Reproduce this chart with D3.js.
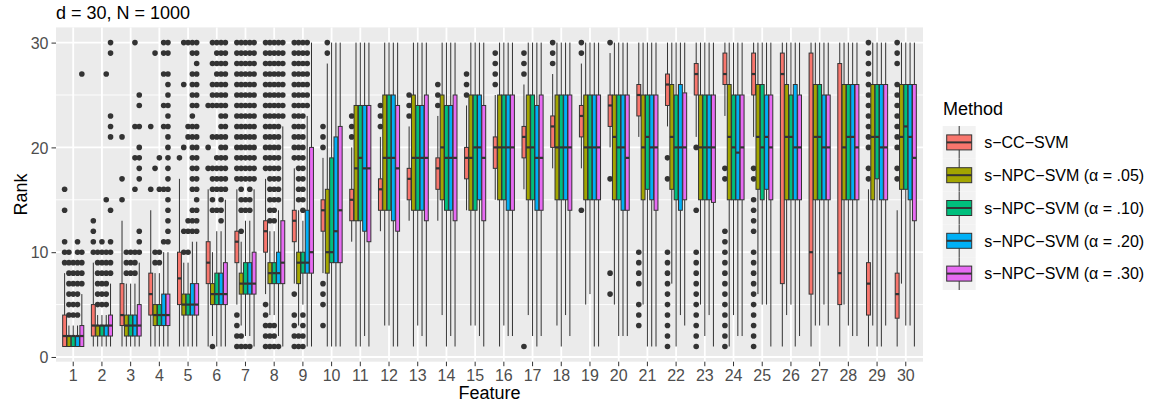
<!DOCTYPE html>
<html><head><meta charset="utf-8">
<script src="https://cdn.jsdelivr.net/npm/d3@7"></script>
<style>body{margin:0;background:#fff} text{font-family:"Liberation Sans",Arial,Helvetica,sans-serif}</style>
</head><body><svg id="c" width="1153" height="408"></svg>
<script>
const features = d3.range(1, 31).map(String);
const methods = ["s\u2212CC\u2212SVM", "s\u2212NPC\u2212SVM (\u03b1 = .05)", "s\u2212NPC\u2212SVM (\u03b1 = .10)", "s\u2212NPC\u2212SVM (\u03b1 = .20)", "s\u2212NPC\u2212SVM (\u03b1 = .30)"];
const colors = ["#F8766D", "#A3A500", "#00BF7D", "#00B0F6", "#E76BF3"];
const yTicks = [0, 10, 20, 30];
const yMinor = [5, 15, 25];

// five-number summaries per feature: [lower whisker, Q1, median, Q3, upper whisker]
const statsCC = [[1,1,2,4,8],[1,2,3,5,9],[1,3,4,7,13],[1,4,6,8,14],[1,5,7.5,10,17],[1,7,9,11,16],[5,9,11,12,16],[6,10,12,13,17],[7,11,13,14,18],[8,12,14,15,19],
  [11,13,15,16,20],[12,14,16,17,21],[13,15,17,18,22],[13,16,18,19,23],[14,17,19,20,24],[15,18,20,21,25],[16,19,21,22,26],[18,20,22,23,27],[18,21,23,24,28],[20,22,24,25,29],
  [21,23,25,26,30],[22,24,26,27,30],[21,25,27,28,30],[23,26,27,29,30],[21,25,27,29,30],[1,7,27,29,30],[1,6,10,29,30],[1,5,8,28,30],[1,4,7,9,16],[1,3.7,6,8,14]];
const statsN05 = [[1,1,2,2,3],[1,2,3,3,4],[1,2,3,4,7],[1,3,4,5,8],[1,4,5,6,9],[2,5,6,7,10],[3,6,7,8,11],[4,7,8,9,12],[3,7,9,10,14],[1,8,10,16,28],
  [1,13,18,24,30],[3,14,19,25,30],[1,14,19,25,30],[4,15,20,25,30],[3,14,19,25,30],[1,15,20,25,30],[4,15,20,25,30],[3,15,20,25,30],[5,15,20,25,30],[5,15,21,25,30],
  [5,15,20,25,30],[7,16,21,26,30],[5,15,20,25,30],[1,15,21,26,30],[6,16,21,26,30],[4,15,21,26,30],[3,15,21,26,30],[5,15,20,26,30],[3,15,21,26,30],[7,16,21,26,30]];
const statsN10 = [[1,1,2,2,3],[1,2,3,3,4],[1,2,3,4,7],[1,3,4,5,8],[1,4,5,6,9],[1,5,6,8,12],[2,6,7,9,13],[4,7,8,9,12],[5,8,9,10,13],[1,9,10,19,30],
  [1,13,19,24,30],[3,14,19,25,30],[3,14,19,24,30],[1,14,19,24,30],[3,14,20,25,30],[3,15,20,25,30],[2,15,20,25,30],[1,15,20,25,30],[6,15,20,25,30],[2,15,20,25,30],
  [1,16,21,25,30],[1,15,20,25,30],[2,15,20,25,30],[4,15,20,25,30],[5,15,20,26,30],[5,15,21,25,30],[3,15,21,26,30],[3,15,21,26,30],[1,17,21,26,30],[3,16,22,26,30]];
const statsN20 = [[1,1,2,2,3],[1,2,3,3,4],[1,2,3,4,7],[1,3,4,6,10],[1,4,5,7,11],[1,5,6,8,12],[2,6,7,9,13],[2,7,8,10,14],[1,8,9,14,23],[1,9,12,21,30],
  [2,12,18,24,30],[1,13,19,25,30],[2,14,19,24,30],[2,14,19,24,30],[2,15,20,25,30],[2,14,20,25,30],[1,14,19,24,30],[4,15,20,25,30],[1,15,20,25,30],[2,14,20,25,30],
  [1,15,20,25,30],[4,14,20,26,30],[4,15,20,25,30],[2,15,19.5,25,30],[5,16,21,25,30],[1,15,20,26,30],[5,15,20,25,30],[2,15,21,26,30],[1,15,20,26,30],[3,15,21,26,30]];
const statsN30 = [[1,1,2,3,6],[1,2,3,4,7],[1,2,3,5,9],[1,3,4,6,10],[1,4,5,7,11],[1,5,6,9,15],[1,6,7,10,16],[1,7,9,13,22],[1,8,10,20,30],[1,9,14,22,30],
  [1,11,18,24,30],[1,12,18,24,30],[1,13,19,25,30],[1,13,19,25,30],[1,13,19,24,30],[2,14,20,25,30],[2,14,19,25,30],[2,14,20,25,30],[1,15,20,25,30],[2,14,19,25,30],
  [1,14,20,25,30],[3,15,20,25.2,30],[1,14.75,20,25,30],[2,15,20,25,30],[1,15,20,25,30],[2,15,20,25,30],[3,15,20,25,30],[2,15,20,26,30],[3,15,20,26,30],[1,13,19,26,30]];

// outlying ranks per feature
const outCC = [[9,10,11,14,16],[10,11,12,13],[15,17,21],[16,22],[19],[18,20,24],
  [1,2,3,4,17,18,19,20,21,22,23,24,25,26,27,28,29,30],
  [1,2,3,4,5,18,19,20,21,22,23,24,25,26,27,28,29,30],
  [1,2,3,4,6,19,20,21,22,23,24,25,26,27,28,29,30],
  [3,5,6,7,20,21,22],[21,22,23],[22,23,24],[23,24,25],[24,25,26],[25,26,27],[26,27,28,29],[1,27,28,29],[28,29,30],[14,29,30],[6,8,17,30],
  [3,4,5,7,8,9,10],[1,2,3,4,5,6,7,8,9,10,17,19],[1,2,3,4,5,6,7,8,9,10,14,20],[1,2,3,4,5,6,7,8,9,10,11,12,17,18],
  [1,2,3,4,5,6,7,8,9,10,12,13,14,15,17,18],[],[],[],
  [17,18,20,21,22,23,24,25,26,27,28,29,30],[17,18,20,21,22,23,24,25,26,28,29,30]];
const outN05 = [[4,5,6,7,8,9,10],[5,6,7,8,9,10],[8,9,10],[9,10,18,29],[10,12,20,26,30],[1,14,15,16,17,18,21,24,25,26,28,30],
  [1,2,12,14,15,16,17,18,19,20,21,22,23,24,25,26,27,28,29,30],
  [1,2,3,13,14,15,16,17,18,19,20,21,22,23,24,25,26,27,28,29,30],
  [1,2,15,16,17,18,19,20,21,22,23,24,25,26,27,28,29,30],
  [29,30],[],[],[],[],[],[],[],[],[],[],[],[],[],[],[],[],[],[],[],[]];
const outN10 = [[4,5,6,7,8,9],[5,6,7,8,9,10,11],[8,9,10],[9,10,16,19],[10,12,13,21,22,30],[14,16,17,18,19,21,24,25,26,27,28,29,30],
  [1,14,15,17,18,19,20,21,22,23,24,25,26,27,28,29,30],
  [1,2,3,13,14,15,16,17,18,19,20,21,22,23,24,25,26,27,28,29,30],
  [1,2,3,4,14,15,16,17,18,19,20,21,22,23,24,25,26,27,28,29,30],
  [],[],[],[],[],[],[],[],[],[],[],[],[],[],[],[],[],[],[],[],[]];
const outN20 = [[4,5,6,7,8,9,10,11],[5,6,7,8,9,10,15,27],[8,9,10,16,19,22,30],[11,16,22,24,27,29,30],
  [12,13,14,16,17,18,19,20,21,22,23,24,25,26,27,29,30],
  [13,14,15,16,17,18,19,20,21,22,23,24,25,26,27,28,29,30],
  [1,14,15,16,17,18,19,20,21,22,23,24,25,26,27,28,29,30],
  [1,15,16,17,18,19,20,21,22,23,24,25,26,27,28,29,30],
  [24,25,26,27,28,29,30],
  [],[],[],[],[],[],[],[],[],[],[],[],[],[],[],[],[],[],[],[],[]];
const outN30 = [[7,8,9,10,27],[8,9,10,11,14,21,22,23,29,30],[10,11,12,17,18,19,20,22,24,25],
  [11,12,13,14,15,16,17,18,19,20,21,22,23,24,25,26,27,29,30],
  [12,13,14,15,16,17,18,19,20,21,22,24,25,26,27,28,29,30],
  [16,17,18,19,20,21,22,23,24,25,26,27,28,29,30],
  [17,18,19,20,21,22,23,24,25,26,27,28,29,30],
  [23,24,25,26,27,28,29,30],
  [],[],[],[],[],[],[],[],[],[],[],[],[],[],[],[],[],[],[],[],[],[]];

const allStats = [statsCC, statsN05, statsN10, statsN20, statsN30];
const allOut = [outCC, outN05, outN10, outN20, outN30];

const svg = d3.select("#c");
const P = {l: 56, r: 923, t: 27.4, b: 361.7};
const x = d3.scaleBand().domain(features).range([P.l, P.r]).paddingInner(0).paddingOuter(0.1);
const y = d3.scaleLinear().domain([-0.45, 31.45]).range([P.b, P.t]);
const xm = d3.scaleBand().domain(methods).range([-0.375 * x.step(), 0.375 * x.step()]);
const bw = xm.bandwidth() * 0.9;
const color = d3.scaleOrdinal().domain(methods).range(colors);

// panel
svg.append("rect").attr("x", P.l).attr("y", P.t).attr("width", P.r - P.l).attr("height", P.b - P.t).attr("fill", "#EBEBEB");
const g = svg.append("g");
g.selectAll(".ymin").data(yMinor).join("line").attr("x1", P.l).attr("x2", P.r)
  .attr("y1", d => y(d)).attr("y2", d => y(d)).attr("stroke", "#fff").attr("stroke-width", 0.9);
g.selectAll(".ymaj").data(yTicks).join("line").attr("x1", P.l).attr("x2", P.r)
  .attr("y1", d => y(d)).attr("y2", d => y(d)).attr("stroke", "#fff").attr("stroke-width", 1.8);
g.selectAll(".xmaj").data(features).join("line").attr("y1", P.t).attr("y2", P.b)
  .attr("x1", d => x(d) + x.bandwidth() / 2).attr("x2", d => x(d) + x.bandwidth() / 2).attr("stroke", "#fff").attr("stroke-width", 1.8);

// rows
const rows = [];
features.forEach((f, i) => methods.forEach((m, j) => {
  const s = allStats[j][i];
  rows.push({f, m, lw: s[0], q1: s[1], med: s[2], q3: s[3], uw: s[4], out: allOut[j][i] || []});
}));
const cx = d => x(d.f) + x.bandwidth() / 2 + xm(d.m) + xm.bandwidth() / 2;

const grp = svg.append("g").selectAll("g").data(rows).join("g");
grp.each(function(d) {
  const s = d3.select(this);
  s.selectAll("circle").data(d.out).join("circle")
    .attr("cx", cx(d)).attr("cy", v => y(v)).attr("r", 2.8).attr("fill", "#333333");
  s.append("line").attr("x1", cx(d)).attr("x2", cx(d)).attr("y1", y(d.q3)).attr("y2", y(d.uw)).attr("stroke", "#333333").attr("stroke-width", 1);
  s.append("line").attr("x1", cx(d)).attr("x2", cx(d)).attr("y1", y(d.q1)).attr("y2", y(d.lw)).attr("stroke", "#333333").attr("stroke-width", 1);
  s.append("rect").attr("x", cx(d) - bw / 2).attr("width", bw).attr("y", y(d.q3)).attr("height", Math.max(0.5, y(d.q1) - y(d.q3)))
    .attr("fill", color(d.m)).attr("stroke", "#333333").attr("stroke-width", 1);
  s.append("line").attr("x1", cx(d) - bw / 2).attr("x2", cx(d) + bw / 2).attr("y1", y(d.med)).attr("y2", y(d.med)).attr("stroke", "#333333").attr("stroke-width", 2.2);
});

// axes
const ax = svg.append("g").attr("transform", `translate(0,${P.b})`).call(d3.axisBottom(x).tickSize(4.5).tickPadding(3));
const ay = svg.append("g").attr("transform", `translate(${P.l},0)`).call(d3.axisLeft(y).tickValues(yTicks).tickSize(4.5).tickPadding(3));
[ax, ay].forEach(a => {
  a.select(".domain").remove();
  a.selectAll(".tick line").attr("stroke", "#333333").attr("stroke-width", 1);
  a.selectAll(".tick text").attr("fill", "#4D4D4D").style("font-size", "16px").style("font-family", "'Liberation Sans',Arial,sans-serif");
});
ay.selectAll(".tick text").attr("dy", "0.36em");

// titles
svg.append("text").attr("x", P.l).attr("y", 18.5).text("d = 30, N = 1000").style("font-size", "18px").attr("fill", "#000");
svg.append("text").attr("x", (P.l + P.r) / 2).attr("y", 399).attr("text-anchor", "middle").text("Feature").style("font-size", "18px");
svg.append("text").attr("transform", `translate(27,${(P.t + P.b) / 2}) rotate(-90)`).attr("text-anchor", "middle").text("Rank").style("font-size", "18px");

// legend
const L = svg.append("g");
L.append("text").attr("x", 943).attr("y", 115).text("Method").style("font-size", "18px");
const keyH = 32.8, keyTop = 126;
const lg = L.selectAll(".key").data(methods).join("g").attr("transform", (d, i) => `translate(942.7,${keyTop + i * keyH})`);
lg.append("rect").attr("width", 33).attr("height", keyH).attr("fill", "#F2F2F2");
lg.append("line").attr("x1", 16.5).attr("x2", 16.5).attr("y1", 0).attr("y2", keyH).attr("stroke", "#333333").attr("stroke-width", 1);
lg.append("rect").attr("x", 4).attr("width", 25).attr("y", keyH / 2 - 7.5).attr("height", 15).attr("fill", d => color(d)).attr("stroke", "#333333").attr("stroke-width", 1);
lg.append("line").attr("x1", 4).attr("x2", 29).attr("y1", keyH / 2).attr("y2", keyH / 2).attr("stroke", "#333333").attr("stroke-width", 2);
lg.append("text").attr("x", 41.5).attr("y", keyH / 2).attr("dy", "0.36em").text(d => d).style("font-size", "16px");
</script></body></html>
